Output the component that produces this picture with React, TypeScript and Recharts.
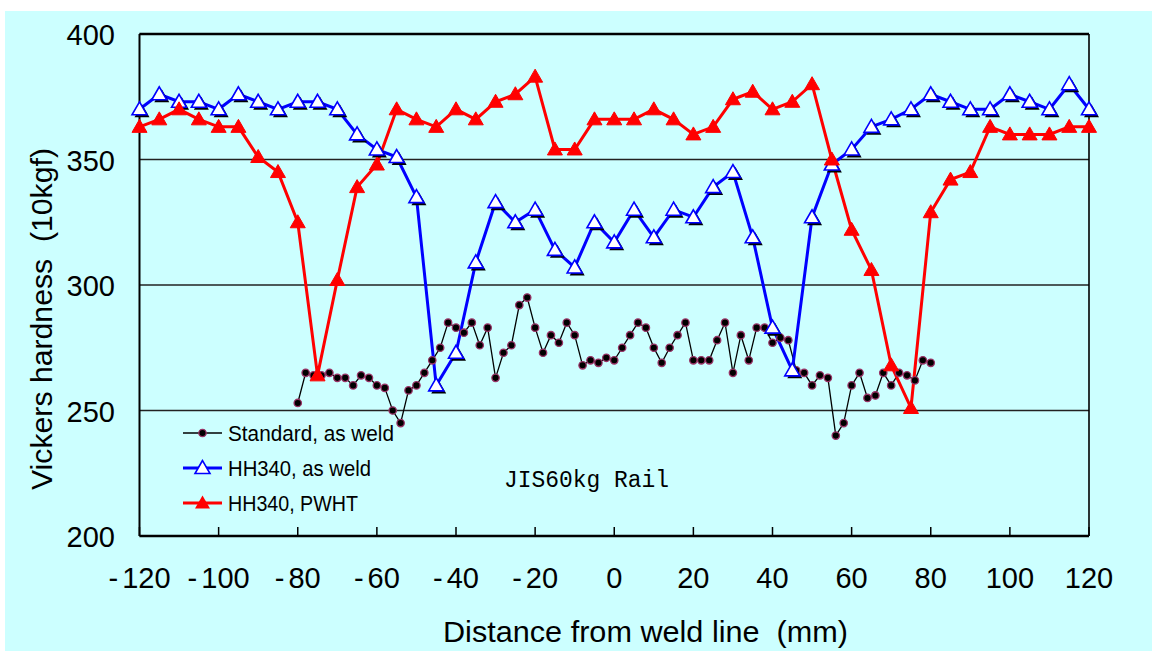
import React from 'react';
import { LineChart, Line, XAxis, YAxis, CartesianGrid, ReferenceLine } from 'recharts';

// Standard, as weld: positions (mm) and hardness
const stdX = [
  -80, -78, -76, -74, -72, -70, -68, -66, -64, -62, -60, -58, -56, -54, -52, -50, -48, -46, -44, -42,
  -40, -38, -36, -34, -32, -30, -28, -26, -24, -22, -20, -18, -16, -14, -12, -10, -8, -6, -4, -2,
  0, 2, 4, 6, 8, 10, 12, 14, 16, 18, 20, 22, 24, 26, 28, 30, 32, 34, 36, 38,
  40, 42, 44, 46, 48, 50, 52, 54, 56, 58, 60, 62, 64, 66, 68, 70, 72, 74, 76, 78, 80,
];
const stdY = [
  253, 265, 264, 264, 265, 263, 263, 260, 264, 263, 260, 259, 250, 245, 258, 260, 265, 270, 275, 285,
  283, 281, 285, 276, 283, 263, 273, 276, 292, 295, 283, 273, 280, 277, 285, 280, 268, 270, 269, 271,
  270, 275, 280, 285, 283, 275, 269, 275, 280, 285, 270, 270, 270, 278, 285, 265, 280, 270, 283, 283,
  277, 279, 278, 266, 265, 260, 264, 263, 240, 245, 260, 265, 255, 256, 265, 260, 265, 264, 262, 270, 269,
];

// HH340 positions (mm)
const hhX = [
  -120, -115, -110, -105, -100, -95, -90, -85, -80, -75, -70, -65, -60, -55, -50, -45, -40, -35, -30, -25,
  -20, -15, -10, -5, 0, 5, 10, 15, 20, 25, 30, 35, 40, 45, 50, 55, 60, 65, 70, 75,
  80, 85, 90, 95, 100, 105, 110, 115, 120,
];
const hhAsWeld = [
  370, 376, 373, 373, 370, 376, 373, 370, 373, 373, 370, 360, 354, 351, 335, 260, 273, 309, 333, 325,
  330, 314, 307, 325, 317, 330, 319, 330, 327, 339, 345, 319, 283, 266, 327, 348, 354, 363, 366, 370,
  376, 373, 370, 370, 376, 373, 370, 380, 370,
];
const hhPwht = [
  363, 366, 370, 366, 363, 363, 351, 345, 325, 264, 302, 339, 348, 370, 366, 363, 370, 366, 373, 376,
  383, 354, 354, 366, 366, 366, 370, 366, 360, 363, 374, 377, 370, 373, 380, 350, 322, 306, 268, 251,
  329, 342, 345, 363, 360, 360, 360, 363, 363,
];

const xTicks = [-120, -100, -80, -60, -40, -20, 0, 20, 40, 60, 80, 100, 120];
const yTicks = [200, 250, 300, 350, 400];

const stdData = stdX.map((x, i) => ({ x, y: stdY[i] }));
const asWeldData = hhX.map((x, i) => ({ x, y: hhAsWeld[i] }));
const pwhtData = hhX.map((x, i) => ({ x, y: hhPwht[i] }));

const FONT = '"Liberation Sans", Arial, sans-serif';
const CYAN = '#CCFFFF';

const tri = (cx: number, cy: number) =>
  `${cx},${cy - 7.5} ${cx - 7.5},${cy + 5.5} ${cx + 7.5},${cy + 5.5}`;

const StdDot = (p: any) => {
  if (p.cx == null || p.cy == null) return <g key={p.key} />;
  return <circle key={p.key} cx={p.cx} cy={p.cy} r={3.7} fill="#000" stroke="#993366" strokeWidth={1.3} />;
};
const BlueDot = (p: any) => {
  if (p.cx == null || p.cy == null) return <g key={p.key} />;
  return (
    <g key={p.key}>
      <polygon points={tri(p.cx + 2.5, p.cy + 2.5)} fill="#000" />
      <polygon points={tri(p.cx, p.cy)} fill="#fff" stroke="#0000FF" strokeWidth={1.6} />
    </g>
  );
};
const RedDot = (p: any) => {
  if (p.cx == null || p.cy == null) return <g key={p.key} />;
  return <polygon key={p.key} points={tri(p.cx, p.cy)} fill="#FF0000" stroke="#FF0000" strokeWidth={1} />;
};

const XTick = (props: any) => {
  const { x, y, payload } = props;
  const v = Number(payload.value);
  return (
    <g>
      <line x1={x} x2={x} y1={y} y2={y - 9} stroke="#000" strokeWidth={1.5} />
      <text x={x} y={y + 52} textAnchor="middle" fontSize={29} fontFamily={FONT} fill="#000">
        {v < 0 ? (
          <>
            <tspan>-</tspan>
            <tspan dx={4}>{String(Math.abs(v))}</tspan>
          </>
        ) : (
          String(v)
        )}
      </text>
    </g>
  );
};
const YTick = (props: any) => {
  const { x, y, payload } = props;
  return (
    <text x={x - 24.5} y={y + 11} textAnchor="end" fontSize={29} fontFamily={FONT} fill="#000">
      {payload.value}
    </text>
  );
};

export default function App() {
  return (
    <div style={{ position: 'absolute', left: 0, top: 0, width: 1152, height: 651, background: '#fff', overflow: 'hidden' }}>
      <div style={{ position: 'absolute', left: 5, top: 11, width: 1147, height: 640, background: CYAN }} />
      <div style={{ position: 'absolute', left: 0, top: 0 }}>
        <LineChart width={1152} height={651} margin={{ top: 34, right: 63, bottom: 0, left: 0 }}>
          <CartesianGrid horizontal vertical={false} stroke="#222" strokeWidth={1.4} />
          <XAxis
            type="number"
            dataKey="x"
            domain={[-120, 120]}
            ticks={xTicks}
            height={115}
            tickSize={0}
            tickMargin={0}
            tickLine={false}
            axisLine={{ stroke: '#000', strokeWidth: 2.5 }}
            tick={<XTick />}
            allowDuplicatedCategory={false}
          />
          <YAxis
            type="number"
            domain={[200, 400]}
            ticks={yTicks}
            width={139.5}
            tickSize={0}
            tickMargin={0}
            tickLine={false}
            axisLine={{ stroke: '#000', strokeWidth: 2 }}
            tick={<YTick />}
          />
          <ReferenceLine y={400} stroke="#000" strokeWidth={2.5} />
          <ReferenceLine x={120} stroke="#000" strokeWidth={1.6} />
          <Line
            data={stdData}
            dataKey="y"
            name="Standard, as weld"
            stroke="#000"
            strokeWidth={1.3}
            dot={StdDot}
            activeDot={false}
            isAnimationActive={false}
          />
          <Line
            data={asWeldData}
            dataKey="y"
            name="HH340, as weld"
            stroke="#0000FF"
            strokeWidth={3}
            dot={BlueDot}
            activeDot={false}
            isAnimationActive={false}
          />
          <Line
            data={pwhtData}
            dataKey="y"
            name="HH340, PWHT"
            stroke="#FF0000"
            strokeWidth={3}
            dot={RedDot}
            activeDot={false}
            isAnimationActive={false}
          />
        </LineChart>
      </div>
      <svg width={1152} height={651} style={{ position: 'absolute', left: 0, top: 0, pointerEvents: 'none' }}>
        <text
          transform="translate(51.5 319) rotate(-90)"
          textAnchor="middle"
          fontSize={30}
          fontFamily={FONT}
          fill="#000"
          textLength={342}
          lengthAdjust="spacingAndGlyphs"
          style={{ whiteSpace: 'pre' }}
        >
          {'Vickers hardness  (10kgf)'}
        </text>
        <text
          x={645.5}
          y={641.5}
          textAnchor="middle"
          fontSize={30}
          fontFamily={FONT}
          fill="#000"
          textLength={405}
          lengthAdjust="spacingAndGlyphs"
          style={{ whiteSpace: 'pre' }}
        >
          {'Distance from weld line  (mm)'}
        </text>
        {/* legend */}
        <line x1={183} x2={222} y1={433} y2={433} stroke="#000" strokeWidth={1.3} />
        <circle cx={202.5} cy={433} r={3.7} fill="#000" stroke="#993366" strokeWidth={1.3} />
        <text x={228} y={441} fontSize={22} fontFamily={FONT} fill="#000" textLength={166} lengthAdjust="spacingAndGlyphs">
          Standard, as weld
        </text>
        <line x1={183} x2={222} y1={468} y2={468} stroke="#0000FF" strokeWidth={3} />
        <polygon points={tri(202.5, 468)} fill="#fff" stroke="#0000FF" strokeWidth={1.6} />
        <text x={228} y={476} fontSize={22} fontFamily={FONT} fill="#000" textLength={143} lengthAdjust="spacingAndGlyphs">
          HH340, as weld
        </text>
        <line x1={183} x2={222} y1={503} y2={503} stroke="#FF0000" strokeWidth={3} />
        <polygon points={tri(202.5, 503)} fill="#FF0000" />
        <text x={228} y={511} fontSize={22} fontFamily={FONT} fill="#000" textLength={130} lengthAdjust="spacingAndGlyphs">
          HH340, PWHT
        </text>
        <text
          x={504}
          y={487}
          fontSize={23}
          fontFamily='"Liberation Mono", "DejaVu Sans Mono", monospace'
          fill="#000"
          textLength={165}
          lengthAdjust="spacingAndGlyphs"
          style={{ whiteSpace: 'pre' }}
        >
          JIS60kg Rail
        </text>
      </svg>
    </div>
  );
}
